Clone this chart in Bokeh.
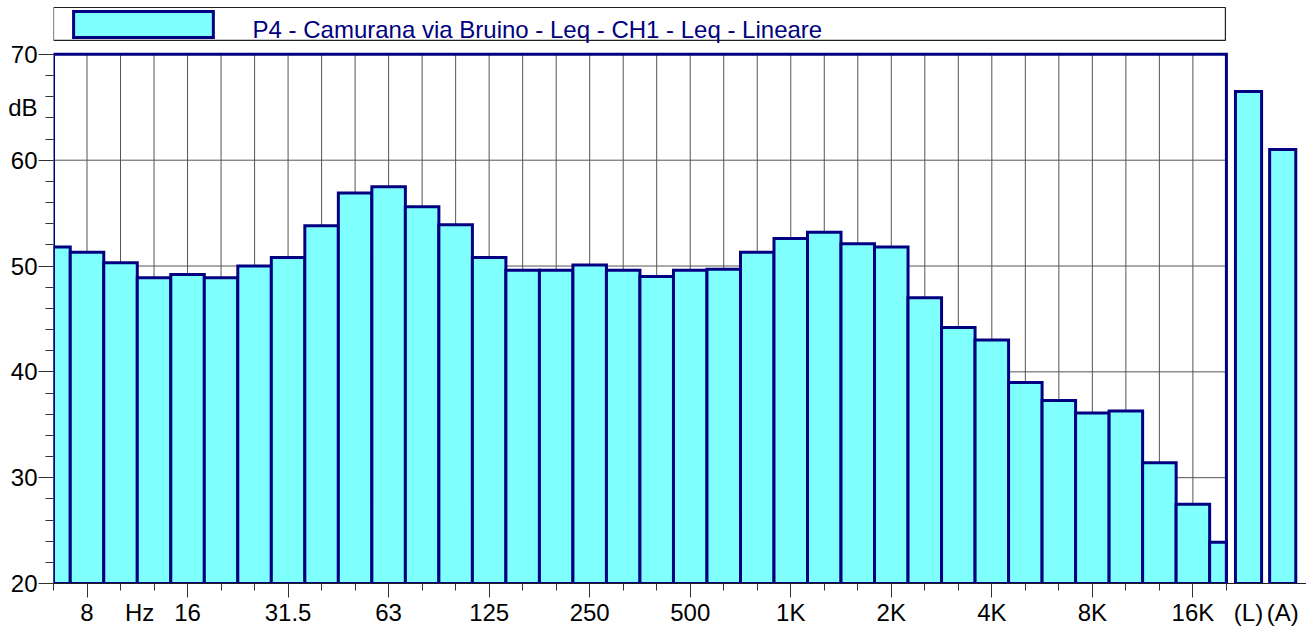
import numpy as np
from bokeh.plotting import figure
from bokeh.models import FixedTicker, LinearAxis, Range1d, CustomLabelingPolicy
from bokeh.core.properties import value
from bokeh.embed import file_html
from bokeh.resources import INLINE

# ---------------- data ----------------
bands = ["6.3", "8", "10", "12.5", "16", "20", "25", "31.5", "40", "50", "63", "80",
         "100", "125", "160", "200", "250", "315", "400", "500", "630", "800",
         "1K", "1.25K", "1.6K", "2K", "2.5K", "3.15K", "4K", "5K", "6.3K", "8K",
         "10K", "12.5K", "16K", "20K"]
leq = [51.8, 51.3, 50.3, 48.9, 49.2, 48.9, 50.0, 50.8, 53.8, 56.9, 57.5, 55.6,
       53.9, 50.8, 49.6, 49.6, 50.1, 49.6, 49.0, 49.6, 49.7, 51.3,
       52.6, 53.2, 52.1, 51.8, 47.0, 44.2, 43.0, 39.0, 37.3, 36.1,
       36.3, 31.4, 27.5, 23.9]
total_labels = ["(L)", "(A)"]
total_values = [66.5, 61.0]
x_tick_labels = ["8", "16", "31.5", "63", "125", "250", "500", "1K", "2K", "4K", "8K", "16K"]
y_ticks = [20, 30, 40, 50, 60, 70]
y_unit = "dB"
x_unit = "Hz"
title = "P4 - Camurana via Bruino -  Leq - CH1 - Leq - Lineare"

# ---------------- style ----------------
FONT = "Liberation Sans"
FS = "24px"
NAVY = "#000080"
FILL = "#80ffff"
GRID = "#555555"
TICK = "#333333"

n = len(bands)
idx = np.arange(n)
x_lo, x_hi = 0, n - 1
y_lo, y_hi = y_ticks[0], y_ticks[-1]

p = figure(width=1306, height=628, x_range=Range1d(0, 37.39), y_range=Range1d(20, 75.09),
           output_backend="svg", toolbar_location=None,
           min_border_left=53, min_border_right=0, min_border_top=0, min_border_bottom=44)
p.outline_line_color = None
p.xgrid.visible = False
p.ygrid.visible = False
p.background_fill_color = "white"
p.border_fill_color = "white"

# grid lines inside the frame
vx = idx[1:-1]
p.segment(x0=vx, x1=vx, y0=[y_lo] * len(vx), y1=[y_hi] * len(vx), line_color=GRID, line_width=1)
hy = y_ticks[1:-1]
p.segment(x0=[x_lo] * len(hy), x1=[x_hi] * len(hy), y0=hy, y1=hy, line_color=GRID, line_width=1)

# band bars (clipped to the frame)
left = np.maximum(idx - 0.5, x_lo)
right = np.minimum(idx + 0.5, x_hi)
p.quad(left=left, right=right, bottom=y_lo, top=leq, fill_color=FILL,
       line_color=NAVY, line_width=3, line_join="miter")

# overall bars (L) and (A)
tot_x = [35.66, 36.68]
tot_w = 0.78
p.vbar(x=tot_x, width=tot_w, bottom=y_lo, top=total_values, fill_color=FILL,
       line_color=NAVY, line_width=3, line_join="miter")

# frame
p.quad(left=[x_lo], right=[x_hi], bottom=[y_lo], top=[y_hi], fill_color=None,
       line_color=NAVY, line_width=3, line_join="miter")

# legend box
p.quad(left=[0], right=[34.97], bottom=[71.32], top=[74.43], fill_color=None,
       line_color="#222222", line_width=1.2)
p.quad(left=[0.6], right=[4.77], bottom=[71.6], top=[74.06], fill_color=FILL,
       line_color=NAVY, line_width=3, line_join="miter")
p.text(x=[5.94], y=[72.39], text=[title], text_font=value(FONT), text_font_size=FS,
       text_color=NAVY, text_baseline="alphabetic", text_align="left")

# policy that draws no labels (for the tick-only inner axes)
no_labels = CustomLabelingPolicy(code="return []")

# ---------- y axis: inner axis = tick marks only ----------
ya = p.yaxis[0]
ya.ticker = FixedTicker(ticks=y_ticks, minor_ticks=list(range(y_lo, y_hi + 1, 2)))
ya.axis_line_color = None
ya.major_tick_in = 0
ya.major_tick_out = 15
ya.minor_tick_in = 0
ya.minor_tick_out = 8
ya.major_tick_line_color = TICK
ya.minor_tick_line_color = TICK
ya.major_label_standoff = 0
ya.major_label_text_font_size = "0px"
ya.major_label_policy = no_labels

# outer y axis = labels (numbers + unit)
unit_y = 65
ya2 = LinearAxis(ticker=FixedTicker(ticks=y_ticks + [unit_y], minor_ticks=[]))
ya2.major_label_overrides = {unit_y: y_unit}
ya2.axis_line_color = None
ya2.major_tick_in = 0
ya2.major_tick_out = 0
ya2.minor_tick_in = 0
ya2.minor_tick_out = 0
ya2.major_label_standoff = 1
ya2.major_label_text_font = FONT
ya2.major_label_text_font_size = FS
ya2.major_label_text_color = "black"
p.add_layout(ya2, "left")

# ---------- x axis: inner axis = line + tick marks ----------
xa = p.xaxis[0]
major_pos = [bands.index(lab) for lab in x_tick_labels]
xa.ticker = FixedTicker(ticks=major_pos, minor_ticks=list(idx))
xa.axis_line_color = "#202020"
xa.axis_line_width = 1
xa.major_tick_in = 0
xa.major_tick_out = 14
xa.minor_tick_in = 0
xa.minor_tick_out = 7
xa.major_tick_line_color = TICK
xa.minor_tick_line_color = TICK
xa.major_label_standoff = 0
xa.major_label_text_font_size = "0px"
xa.major_label_policy = no_labels

# outer x axis = labels (bands, unit, totals)
hz_pos = 2.57
lab_pos = major_pos + [hz_pos] + tot_x
lab_txt = x_tick_labels + [x_unit] + total_labels
xa2 = LinearAxis(ticker=FixedTicker(ticks=lab_pos, minor_ticks=[]))
xa2.major_label_overrides = {pos: t for pos, t in zip(lab_pos, lab_txt)}
xa2.axis_line_color = None
xa2.major_tick_in = 0
xa2.major_tick_out = 0
xa2.minor_tick_in = 0
xa2.minor_tick_out = 0
xa2.major_label_standoff = 1
xa2.major_label_text_font = FONT
xa2.major_label_text_font_size = FS
xa2.major_label_text_color = "black"
p.add_layout(xa2, "below")

open("out.html", "w").write(file_html(p, INLINE))
